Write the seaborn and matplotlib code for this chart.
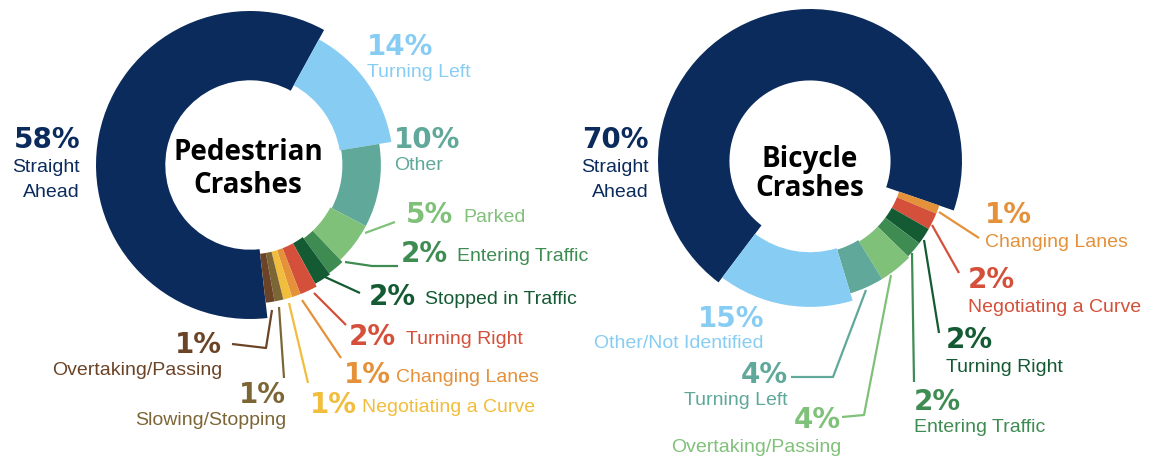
"""
two donut charts: pedestrian vs bicycle crashes by vehicle maneuver
"""

import matplotlib
matplotlib.use('Agg')
import matplotlib.pyplot as plt
import seaborn as sns

# ---- data ----
ped_labels = ['Straight Ahead', 'Turning Left', 'Other', 'Parked', 'Entering Traffic',
              'Stopped in Traffic', 'Turning Right', 'Changing Lanes',
              'Negotiating a Curve', 'Slowing/Stopping', 'Overtaking/Passing']
ped_values = [58, 14, 10, 5, 2, 2, 2, 1, 1, 1, 1]

bike_labels = ['Straight Ahead', 'Changing Lanes', 'Negotiating a Curve', 'Turning Right',
               'Entering Traffic', 'Overtaking/Passing', 'Turning Left',
               'Other/Not Identified']
bike_values = [70, 1, 2, 2, 2, 4, 4, 15]

# ---- styles ----
NAVY = '#0b2b5c'
LBLUE = '#87cdf3'
TEAL = '#5fa89a'
LGREEN = '#80c17a'
GREEN = '#3f8c53'
DGREEN = '#145a32'
RED = '#d4503a'
ORANGE = '#e4913a'
YELLOW = '#f1bd3c'
OLIVE = '#7d6636'
BROWN = '#6b4427'

ped_colors = [NAVY, LBLUE, TEAL, LGREEN, GREEN, DGREEN, RED, ORANGE, YELLOW, OLIVE, BROWN]
bike_colors = [NAVY, ORANGE, RED, DGREEN, GREEN, LGREEN, TEAL, LBLUE]

# (inner, outer) radius for each wedge, as fraction of the big ring
ped_rings = [(0.55, 1.0), (0.59, 0.93), (0.6, 0.85), (0.59, 0.85), (0.59, 0.87),
             (0.58, 0.88), (0.58, 0.9), (0.58, 0.9), (0.58, 0.9), (0.58, 0.9), (0.58, 0.9)]
bike_rings = [(0.53, 1.0), (0.62, 0.9), (0.62, 0.9), (0.62, 0.9), (0.62, 0.9),
              (0.62, 0.91), (0.61, 0.91), (0.6, 0.96)]

W, H = 1151, 457
PCT_FONT = ['DejaVu Sans']
TXT_FONT = ['Liberation Sans', 'DejaVu Sans']
TITLE_FONT = ['Open Sans', 'DejaVu Sans']
PCT_SIZE = 20
TXT_SIZE = 14


def up(y):
    """image row -> axis y"""
    return H - y


def draw_donut(ax, values, colors, rings, center, radius, start):
    wedges, _ = ax.pie(values, colors=colors, radius=radius, center=center,
                       startangle=start, counterclock=False,
                       wedgeprops={'width': radius * 0.45, 'linewidth': 0})
    for w, (ri, ro) in zip(wedges, rings):
        w.set_radius(radius * ro)
        w.set_width(radius * (ro - ri))
    return wedges


def pct_label(ax, x, y, value, label, color, ha='left', inline_dx=None, dy=22):
    """big percent + small description (below, or inline to the right)"""
    ax.text(x, up(y), f'{value}%', color=color, fontsize=PCT_SIZE, fontweight='bold',
            family=PCT_FONT, ha=ha, va='baseline')
    if inline_dx is not None:
        ax.text(x + inline_dx, up(y - 1), label, color=color, fontsize=TXT_SIZE,
                family=TXT_FONT, ha='left', va='baseline')
    else:
        ax.text(x, up(y + dy), label, color=color, fontsize=TXT_SIZE,
                family=TXT_FONT, ha=ha, va='baseline')


def leader(ax, pts, color):
    xs = [p[0] for p in pts]
    ys = [up(p[1]) for p in pts]
    ax.plot(xs, ys, color=color, lw=1.6, solid_capstyle='butt')


def straight_ahead(ax, x, value):
    ax.text(x, up(148), f'{value}%', color=NAVY, fontsize=PCT_SIZE, fontweight='bold',
            family=PCT_FONT, ha='right', va='baseline')
    ax.text(x, up(172), 'Straight', color=NAVY, fontsize=TXT_SIZE, family=TXT_FONT,
            ha='right', va='baseline')
    ax.text(x, up(197), 'Ahead', color=NAVY, fontsize=TXT_SIZE, family=TXT_FONT,
            ha='right', va='baseline')


def title(ax, x, y1, y2, word):
    ax.text(x, up(y1), word, family=TITLE_FONT, fontweight='bold',
            fontsize=20, ha='center', va='baseline', color='black')
    ax.text(x, up(y2), 'Crashes', family=TITLE_FONT, fontweight='bold',
            fontsize=20, ha='center', va='baseline', color='black')


sns.set_theme(style='white')
fig = plt.figure(figsize=(W / 100, H / 100), dpi=100)
ax = fig.add_axes([0, 0, 1, 1])

# ---- pedestrian ----
draw_donut(ax, ped_values, ped_colors, ped_rings, (250, up(165)), 154, -83.5)
title(ax, 248, 160, 193, 'Pedestrian')
straight_ahead(ax, 80, ped_values[0])

pct_label(ax, 367, 55, ped_values[1], ped_labels[1], LBLUE)
pct_label(ax, 394, 148, ped_values[2], ped_labels[2], TEAL)
pct_label(ax, 406, 223, ped_values[3], ped_labels[3], LGREEN, inline_dx=57)
pct_label(ax, 401, 262, ped_values[4], ped_labels[4], GREEN, inline_dx=56)
pct_label(ax, 369, 305, ped_values[5], ped_labels[5], DGREEN, inline_dx=56)
pct_label(ax, 349, 345, ped_values[6], ped_labels[6], RED, inline_dx=57)
pct_label(ax, 344, 383, ped_values[7], ped_labels[7], ORANGE, inline_dx=52)
pct_label(ax, 310, 413, ped_values[8], ped_labels[8], YELLOW, inline_dx=52)
pct_label(ax, 286, 403, ped_values[9], ped_labels[9], OLIVE, ha='right')
pct_label(ax, 222, 353, ped_values[10], ped_labels[10], BROWN, ha='right')

leader(ax, [(365, 233), (395, 222)], LGREEN)
leader(ax, [(345, 262), (372, 266), (398, 266)], GREEN)
leader(ax, [(325, 277), (360, 293)], DGREEN)
leader(ax, [(314, 293), (346, 325)], RED)
leader(ax, [(302, 300), (341, 358)], ORANGE)
leader(ax, [(289, 303), (308, 383)], YELLOW)
leader(ax, [(279, 307), (284, 378)], OLIVE)
leader(ax, [(272, 310), (266, 348), (232, 344)], BROWN)

# ---- bicycle ----
draw_donut(ax, bike_values, bike_colors, bike_rings, (810, up(161)), 152, -127)
title(ax, 810, 167, 196, 'Bicycle')
straight_ahead(ax, 649, bike_values[0])

pct_label(ax, 985, 223, bike_values[1], bike_labels[1], ORANGE, dy=24)
pct_label(ax, 968, 288, bike_values[2], bike_labels[2], RED, dy=24)
pct_label(ax, 946, 348, bike_values[3], bike_labels[3], DGREEN, dy=24)
pct_label(ax, 914, 410, bike_values[4], bike_labels[4], GREEN, dy=22)
pct_label(ax, 841, 428, bike_values[5], bike_labels[5], LGREEN, ha='right', dy=24)
pct_label(ax, 788, 383, bike_values[6], bike_labels[6], TEAL, ha='right', dy=22)
pct_label(ax, 764, 327, bike_values[7], bike_labels[7], LBLUE, ha='right', dy=21)

leader(ax, [(939, 212), (979, 238)], ORANGE)
leader(ax, [(932, 225), (959, 273)], RED)
leader(ax, [(924, 240), (939, 333)], DGREEN)
leader(ax, [(912, 253), (914, 382)], GREEN)
leader(ax, [(891, 275), (864, 415), (842, 417)], LGREEN)
leader(ax, [(866, 290), (833, 377), (791, 377)], TEAL)

ax.set_xlim(0, W)
ax.set_ylim(0, H)
ax.set_aspect('equal')
ax.axis('off')

fig.savefig('out.png', dpi=100, facecolor='white')
